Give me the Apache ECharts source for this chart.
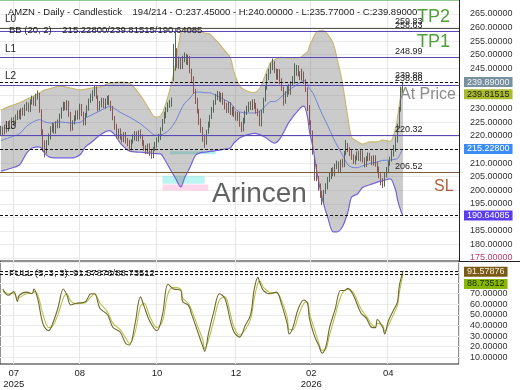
<!DOCTYPE html>
<html><head><meta charset="utf-8">
<script src="https://cdn.jsdelivr.net/npm/echarts@6/dist/echarts.min.js"></script>
<style>html,body{margin:0;padding:0;background:#fff}#c{width:520px;height:390px}</style>
</head><body><div id="c"></div>
<script>
// ---------- DATA ----------
const SLOTS = 250;
const monthIdx = [7, 43, 85, 128, 169, 211];
const monthText = ['07\n2025', '08', '10', '12', '02\n2026', '04'];

const open = [221.6,222.6,221.2,223.1,222.3,224.9,223.6,226.1,224.5,226.7,
228.5,227.0,229.6,228.2,230.4,231.4,229.7,232.5,233.6,231.8,
234.5,235.0,229.1,221.6,217.2,214.6,217.9,219.5,222.4,223.8,
221.8,224.9,223.6,227.2,230.1,231.6,230.3,232.4,228.3,223.1,
225.2,226.5,228.6,226.8,231.0,228.4,224.8,227.9,230.1,233.2,
233.8,235.5,237.7,234.3,230.5,231.5,233.2,231.2,232.4,234.2,
232.1,230.4,226.7,223.8,220.1,221.9,219.5,218.6,220.6,218.4,
217.7,215.6,218.1,219.2,220.9,218.9,221.3,219.8,217.8,215.5,
214.3,216.6,213.7,212.5,215.4,216.6,218.7,219.3,222.6,225.4,
227.5,229.7,231.5,231.7,241.5,245.0,251.0,246.0,248.1,245.6,
248.6,249.4,247.2,248.9,243.9,241.3,236.5,233.4,229.3,225.7,
222.5,219.8,217.5,221.7,224.0,227.2,229.5,232.4,234.3,235.6,
233.5,235.2,232.3,231.3,229.4,231.8,228.6,229.9,228.3,226.6,
228.1,224.3,222.6,225.5,228.7,229.8,231.9,230.4,232.7,231.4,
229.0,228.8,224.4,229.2,233.5,237.9,241.5,243.8,245.4,246.7,
244.0,241.7,243.9,240.5,237.5,232.8,235.3,238.2,236.1,239.4,
240.2,243.1,245.2,242.8,241.4,242.9,240.0,237.2,230.7,224.9,
221.3,210.5,208.5,204.3,201.6,198.9,196.1,199.5,201.2,204.1,
205.0,207.4,206.0,208.9,209.7,207.5,210.5,209.3,213.8,216.5,
214.8,214.1,212.1,210.6,212.0,213.5,211.7,213.9,211.0,209.5,
211.8,212.9,211.6,210.1,212.1,209.6,207.9,205.5,203.4,202.1,
205.6,207.2,210.1,211.5,213.3,215.1,218.4,223.7,229.8,237.45];

const close = [222.5,221.0,223.4,222.1,224.6,223.8,225.9,224.7,226.8,228.2,
227.1,229.3,228.4,230.6,231.2,229.9,232.7,233.4,232.0,234.8,
235.2,229.5,221.3,216.8,214.9,217.6,219.8,222.7,223.5,222.1,
224.6,223.9,227.4,229.8,231.3,230.6,232.1,228.0,223.4,224.9,
226.8,228.3,227.1,230.8,228.2,225.1,227.6,230.4,232.9,234.1,
235.8,237.4,234.6,230.2,231.8,233.0,231.5,232.7,233.9,232.4,
230.1,227.0,223.5,220.4,221.6,219.8,218.9,220.3,218.1,217.4,
215.9,217.8,219.5,220.6,219.2,221.0,220.1,217.5,215.8,214.6,
216.3,214.0,212.8,215.1,216.9,218.4,219.6,222.3,225.1,227.8,
229.4,231.2,232.0,233.1,244.0,250.5,246.2,247.8,245.9,248.3,
249.1,247.5,248.6,244.2,241.0,236.8,233.1,229.6,225.4,222.8,
219.5,217.8,221.4,224.2,226.9,229.8,232.1,234.6,235.3,233.8,
234.9,232.6,231.0,229.7,231.5,228.9,229.6,228.1,226.9,227.8,
224.6,222.9,225.8,228.4,230.1,231.6,230.7,232.4,231.1,229.3,
228.5,224.7,228.9,233.2,237.6,241.8,243.5,245.7,246.4,244.3,
242.0,243.6,240.2,237.8,232.5,235.6,237.9,236.4,239.1,240.5,
242.8,244.9,243.1,241.7,242.6,240.3,237.5,230.4,225.2,221.6,
214.3,208.2,204.6,201.3,198.7,196.4,199.2,201.5,203.8,205.2,
207.1,206.3,208.7,209.4,207.8,210.2,209.6,213.5,216.2,215.1,
213.8,212.4,210.9,211.7,213.2,212.0,213.6,211.3,209.8,211.5,
212.6,211.9,210.4,211.8,209.9,207.6,205.8,203.1,202.4,205.3,
207.5,209.8,211.2,213.6,214.8,218.7,223.4,229.6,237.3,239.89];

const high = [223.8,223.5,224.2,224.0,225.5,225.8,226.8,227.0,227.9,229.4,
229.6,230.2,230.5,231.7,232.6,232.3,233.5,234.9,234.5,235.6,
236.8,235.9,229.8,222.5,218.4,218.5,220.9,223.6,224.8,224.7,
225.4,226.1,228.3,230.6,232.6,232.5,233.2,233.0,228.9,225.8,
227.6,229.4,229.5,231.9,231.8,229.0,228.5,231.3,233.8,235.6,
236.9,238.6,238.3,235.0,232.9,234.1,234.0,233.8,234.8,235.1,
233.0,231.1,227.4,224.5,222.7,222.8,220.7,221.4,221.5,219.3,
218.6,218.7,220.6,221.8,221.7,222.1,222.4,220.6,218.5,216.6,
217.2,217.3,214.9,216.0,217.8,219.5,220.8,223.2,226.3,228.9,
230.6,232.4,233.3,234.2,254.0,259.8,252.4,249.3,249.0,249.6,
250.8,250.3,249.9,249.5,244.8,242.0,237.4,234.1,230.0,226.5,
223.3,220.6,222.3,225.3,227.8,230.7,233.2,235.5,236.6,236.4,
235.9,236.0,233.4,232.2,232.6,232.5,230.8,230.9,229.2,228.9,
228.8,225.2,226.7,229.3,231.2,232.6,232.8,233.5,233.6,232.2,
230.1,229.4,229.8,234.1,238.5,242.9,244.8,247.0,248.6,247.6,
244.9,244.7,244.6,241.3,238.2,236.5,238.8,239.1,240.2,242.1,
246.8,246.2,246.0,243.9,244.8,243.8,240.9,237.9,231.4,225.8,
222.0,211.9,209.6,205.2,202.5,199.8,200.1,202.6,204.9,206.6,
208.2,208.5,209.8,210.9,210.6,211.3,211.6,214.5,218.5,217.4,
215.9,215.0,213.2,212.8,214.3,214.6,214.8,214.7,212.1,212.6,
213.9,213.8,212.7,212.9,212.9,210.5,208.7,206.3,204.5,206.4,
208.6,210.9,212.4,214.7,216.7,219.8,224.5,230.8,238.2,240.0];

const low = [220.4,220.1,220.6,221.2,221.7,222.9,222.8,223.9,223.8,225.9,
226.2,226.1,227.5,227.4,229.3,228.8,228.9,231.6,231.2,231.0,
233.4,228.6,220.2,214.3,212.1,213.5,216.6,218.7,221.3,220.9,
220.8,222.8,222.9,226.4,229.2,229.5,229.4,227.1,221.7,222.0,
224.3,225.6,226.0,226.1,227.3,223.9,223.9,227.0,229.3,232.2,
232.9,234.6,233.7,229.1,229.4,230.6,230.3,230.1,231.5,231.3,
229.2,225.8,222.3,219.2,219.0,218.6,217.6,217.7,217.2,216.2,
214.4,214.7,217.2,218.3,218.1,218.0,219.0,216.4,214.6,213.3,
213.4,212.6,211.6,211.8,214.5,215.7,217.6,218.5,221.8,224.6,
226.5,228.8,230.4,230.8,240.2,244.1,245.1,244.8,244.6,244.7,
247.2,246.3,246.1,243.1,239.7,235.5,231.8,228.3,224.1,221.2,
217.9,215.6,216.8,220.8,223.1,226.3,228.6,231.5,233.2,232.7,
232.4,231.5,229.8,228.5,228.5,227.8,227.5,227.0,225.7,225.5,
223.4,221.5,221.7,224.6,227.8,228.9,229.6,229.5,230.0,228.2,
227.3,223.6,223.5,228.4,232.7,237.0,240.6,242.9,244.3,243.2,
240.8,240.7,239.1,236.6,231.2,231.9,234.4,235.3,235.2,238.5,
239.3,242.2,242.0,240.6,240.5,239.2,236.3,229.2,224.0,220.4,
213.1,203.5,203.3,199.8,197.2,194.5,195.3,198.6,200.3,203.0,
204.1,205.2,205.1,207.8,206.6,206.6,208.4,208.5,212.9,214.0,
212.6,211.2,209.7,209.5,211.0,210.8,210.6,210.2,208.4,208.6,
210.7,210.8,209.2,209.1,208.7,206.3,204.4,201.8,200.8,201.3,
204.7,206.3,209.0,210.6,212.4,214.2,217.6,222.9,229.0,235.77];

// Bollinger Bands (20,2) read at sample bars
const bbIdx = [0,5,10,14,17,21,24,27,32,38,43,46,49,54,59,62,65,70,76,78,81,84,87,89,92,95,98,100,103,106,108,111,114,117,119,122,125,127,130,134,138,141,144,147,149,152,157,163,165,167,168,170,172,175,178,181,183,186,189,191,194,197,201,205,208,212,215,216,218,219];
const bbUpper = [229.5,231,232.2,233.5,234.4,235.9,237,237.5,238.4,237.7,237,237.2,237.7,238.1,239.5,239.7,239.9,239.5,235,232.9,229.6,227,227.4,230.3,237,246,258,259.5,259.5,259.5,258.7,258,257.5,255.4,254,251.4,248.8,243.5,238.5,236.6,236,237.7,242.5,247.3,248,249,248.8,249,250,251,253,256,258.4,259,257.5,254,248.8,239.5,226.6,219.5,218,217,217.8,217.8,218.5,218,223,226.7,236.2,239.815];
const bbLower = [207,208,209.3,213.7,215.6,216,213.5,212.1,211.9,211.9,213,216,217.5,220.4,222,220.5,217.4,214.5,214,213.9,213.7,213.5,213.4,211.5,208,204.5,201.2,204.5,208.5,212.9,213.7,214,214.3,214.6,214.8,215.2,215.6,217.5,219.3,220.4,221,220.5,219.5,218,217.4,219,225.2,230.3,231,227,222,215.6,207,197,190,184.6,184.6,186.5,192,197.5,198.5,201,202,203,203.5,204.2,200,196.5,192,190.641];
const bbMiddle = [218.3,219.5,220.8,223.6,225,226,225.2,224.8,225.2,224.8,225,226.6,227.6,229.3,230.8,230.1,228.7,227,224.5,223.4,221.7,220.3,220.4,220.9,222.5,225.3,229.6,232,234,236.2,236.2,236,235.9,235,234.4,233.3,232.2,230.5,228.9,228.5,228.5,229.1,231,232.7,232.7,234,237,239.7,240.5,239,237.5,235.8,232.7,228,223.8,219.3,216.7,213,209.3,208.5,208.3,209,209.9,210.4,211,211.1,211.5,211.6,214.1,215.228];

// Full stochastic (5,3,3) read at sample bars
const stIdx = [1,4,7,9,10,14,17,18,20,23,26,28,31,34,36,38,41,46,49,51,54,58,61,65,68,70,73,76,78,81,85,88,91,94,98,99,102,104,107,110,111,113,116,119,122,125,127,130,133,136,138,140,141,143,147,150,153,156,157,159,162,165,167,168,171,173,175,177,179,182,185,187,189,192,196,199,202,204,205,208,209,211,214,216,217,219];
const stK = [74.5,68.5,72,62.7,68.5,71.5,70,74.5,65.5,41,35,41,56,74.5,68.5,59.4,61,62.4,70,70,56,50.3,38.2,33.6,23,21.5,41,67,58,44.3,35,50.3,79,74.5,73,62.4,59.4,50,35,20,15.5,32,53.4,70,65.5,44.3,33.6,29,39.7,50.3,74.5,85.4,80.6,73,70,71.5,59.4,41,32,38,56,64,61,47,29,21.5,13.9,20,38,55,73,73,75,68.5,52,47,38.2,38,45.7,38,32,44,55,62.4,77.5,91.57876];
const stD = [72,70,70.5,66,66.5,70,70.5,72,69,50,38,39,50,66,70,63,60.5,61.5,67,70,61,53,42,36,28,23,33,58,61,49,38,44,70,76,74,66,61,54,40,26,18,26,45,64,67,51,38,31,36,46,66,80,82,76,71,71,63,47,36,36,49,61,62,52,35,24,16.5,17.5,31,49,67,73,74,71,56,49,41,38.5,42,40,34.5,40,51,59,71,88.73512];

// tinted zones (bar index range, price range)
const zoneFrom = [92, 88, 88];
const zoneTo = [117, 111, 113];
const zoneLow = [213.3, 202.4, 199.9];
const zoneHigh = [214.4, 205.3, 202.1];
const zoneColor = ['rgba(110,230,215,0.55)', 'rgba(120,235,230,0.5)', 'rgba(255,175,215,0.5)'];

// axis ticks
const priceTicks = [175,180,185,190,195,200,205,210,215,220,225,230,235,240,245,250,255,260,265];
const priceLabelTicks = [175,180,185,195,200,205,210,220,225,230,245,250,255,260,265];
const oscTicks = [10,20,30,40,50,60,70,80,90,100];
const oscLabelTicks = [10,20,30,40,50,60,70];

// levels
const levelVals = [259.83, 258.63, 248.99, 238.88, 220.32, 206.52];
const levelText = ['259.83', '258.63', '248.99', '238.88', '220.32', '206.52'];
const levelNames = ['L0', '', 'L1', 'L2', 'L3', ''];
const lastClose = 239.89;
const bbLast = { mid: 215.228, up: 239.81515, low: 190.64085 };
const stLast = { k: 91.57876, d: 88.73512 };

// ---------- CHART ----------
const FONT = '"Liberation Sans", Arial, sans-serif';
const chart = echarts.init(document.getElementById('c'), null, { renderer: 'canvas' });
const slots = Array.from({ length: SLOTS }, (_, i) => String(i));
const pairs = (idx, vals) => idx.map((x, k) => [x, vals[k]]);
const dash = { color: '#111', width: 1, type: [3, 2] };
const tag = (v, text, bg, fg, dy) => ({
  yAxis: v, lineStyle: dash,
  label: { show: true, position: 'end', formatter: text, backgroundColor: bg, color: fg,
    fontSize: 9, fontFamily: FONT, padding: [1, 3, 0, 3], distance: 5, offset: [0, dy] }
});
const solid = (v, c) => ({ yAxis: v, lineStyle: { color: c, width: 1.2, type: 'solid' }, label: { show: false } });

const monthInterval = (i) => monthIdx.indexOf(i) >= 0;

chart.setOption({
  animation: false,
  backgroundColor: '#fff',
  grid: [
    { left: 0, top: 0, width: 459, height: 261, show: false },
    { left: 0, top: 261, width: 459, height: 107, show: true, borderColor: '#222', borderWidth: 1 }
  ],
  xAxis: [
    { gridIndex: 0, type: 'category', data: slots, boundaryGap: true,
      axisLine: { show: false }, axisTick: { show: false }, axisLabel: { show: false },
      splitLine: { show: true, interval: monthInterval, lineStyle: { color: '#e6e6e6' } } },
    { gridIndex: 1, type: 'category', data: slots, boundaryGap: true,
      axisLine: { show: false }, axisTick: { show: false },
      axisLabel: { interval: monthInterval, formatter: (v, i) => monthText[monthIdx.indexOf(+v)] || '',
        fontSize: 9.5, fontFamily: FONT, color: '#222', lineHeight: 11, margin: 4 },
      splitLine: { show: true, interval: monthInterval, lineStyle: { color: '#e6e6e6' } } }
  ],
  yAxis: [
    { gridIndex: 0, type: 'value', position: 'right', min: 173.89, max: 270.16, scale: true,
      axisLine: { show: true, lineStyle: { color: '#222' } },
      axisTick: { show: false, customValues: priceTicks },
      axisLabel: { customValues: priceLabelTicks, formatter: (v) => v.toFixed(5), fontSize: 9, fontFamily: FONT,
        color: (v) => (+v === 175 ? '#c03a6a' : '#333'), margin: 11 },
      splitLine: { show: true, lineStyle: { color: '#ececec' } } },
    { gridIndex: 1, type: 'value', position: 'right', min: 3.6, max: 100.9, scale: true,
      axisLine: { show: false },
      axisTick: { show: false, customValues: oscTicks },
      axisLabel: { customValues: oscLabelTicks, formatter: (v) => v.toFixed(5), fontSize: 9, fontFamily: FONT, color: '#333', margin: 11 },
      splitLine: { show: true, lineStyle: { color: '#ececec' } } }
  ],
  series: [
    { name: 'bbBase', type: 'line', xAxisIndex: 0, yAxisIndex: 0, stack: 'bb', data: pairs(bbIdx, bbLower),
      symbol: 'none', smooth: 0.3, lineStyle: { opacity: 0 }, silent: true, z: 1 },
    { name: 'bbFill', type: 'line', xAxisIndex: 0, yAxisIndex: 0, stack: 'bb',
      data: bbIdx.map((x, k) => [x, bbUpper[k] - bbLower[k]]),
      symbol: 'none', smooth: 0.3, lineStyle: { opacity: 0 }, areaStyle: { color: 'rgba(120,120,120,0.55)' }, silent: true, z: 1,
      markArea: { silent: true, data: zoneFrom.map((f, k) => [
        { xAxis: f, yAxis: zoneLow[k], itemStyle: { color: zoneColor[k] } },
        { xAxis: zoneTo[k], yAxis: zoneHigh[k] }
      ]) } },
    { name: 'bbUpper', type: 'line', xAxisIndex: 0, yAxisIndex: 0, data: pairs(bbIdx, bbUpper),
      symbol: 'none', smooth: 0.3, lineStyle: { color: '#c9b872', width: 1.2 }, z: 2 },
    { name: 'bbLower', type: 'line', xAxisIndex: 0, yAxisIndex: 0, data: pairs(bbIdx, bbLower),
      symbol: 'none', smooth: 0.3, lineStyle: { color: '#7264d8', width: 1.2 }, z: 2 },
    { name: 'bbMiddle', type: 'line', xAxisIndex: 0, yAxisIndex: 0, data: pairs(bbIdx, bbMiddle),
      symbol: 'none', smooth: 0.3, lineStyle: { color: '#6f82d6', width: 1 }, z: 2 },
    { name: 'AMZN', type: 'candlestick', xAxisIndex: 0, yAxisIndex: 0, barWidth: 1,
      data: open.map((o, i) => [o, close[i], low[i], high[i]]),
      itemStyle: { color: '#52685a', color0: '#8a5656', borderColor: '#52685a', borderColor0: '#8a5656', borderWidth: 1 },
      z: 3,
      markLine: { symbol: ['none', 'none'], silent: true, animation: false, precision: 5, z: 4,
        data: [
          solid(levelVals[0], '#555'),
          solid(levelVals[1], '#5a48b8'),
          solid(levelVals[2], '#5a48b8'),
          solid(levelVals[3], '#5a48b8'),
          solid(levelVals[4], '#5a48b8'),
          solid(levelVals[5], '#7b5a3a'),
          tag(lastClose, lastClose.toFixed(5), '#7890a0', '#eef3f6', 0),
          tag(bbLast.up, bbLast.up.toFixed(5), '#a9bb2a', '#222', 12),
          tag(bbLast.mid, bbLast.mid.toFixed(5), '#3b8cf5', '#fff', 0),
          tag(bbLast.low, bbLast.low.toFixed(5), '#5a3cf0', '#fff', 0)
        ] } },
    { name: '%K', type: 'line', xAxisIndex: 1, yAxisIndex: 1, data: pairs(stIdx, stK),
      symbol: 'none', smooth: 0.35, lineStyle: { color: '#6e6a2c', width: 1.1 }, z: 3,
      markLine: { symbol: ['none', 'none'], silent: true, animation: false, precision: 5,
        data: [
          tag(stLast.k, stLast.k.toFixed(5), '#7a5a16', '#f4f0e0', 1),
          tag(stLast.d, stLast.d.toFixed(5), '#88b800', '#1a2a00', 10)
        ] } },
    { name: '%D', type: 'line', xAxisIndex: 1, yAxisIndex: 1, data: pairs(stIdx, stD),
      symbol: 'none', smooth: 0.35, lineStyle: { color: '#b3c24a', width: 1.1 }, z: 2 }
  ]
});

// ---------- TEXT OVERLAYS (positions from the library's scales) ----------
const py = (v) => chart.convertToPixel({ yAxisIndex: 0 }, v);
const oy = (v) => chart.convertToPixel({ yAxisIndex: 1 }, v);
const txt = (x, y, text, size, fill, extra) => Object.assign({
  type: 'text', x: x, y: y, silent: true, z: 100,
  style: { text: text, fill: fill, font: size + 'px ' + FONT, verticalAlign: 'middle', textVerticalAlign: 'middle' }
}, extra || {});

const g = [];
g.push({ type: 'line', silent: true, z: 50, shape: { x1: 459, y1: 261.5, x2: 520, y2: 261.5 }, style: { stroke: '#222', lineWidth: 1 } });
g.push({ type: 'line', silent: true, z: 50, shape: { x1: 0, y1: 0.5, x2: 459, y2: 0.5 }, style: { stroke: '#8fc98f', lineWidth: 1 } });
g.push(txt(8, 12, 'AMZN - Daily - Candlestick    194/214 - O:237.45000 - H:240.00000 - L:235.77000 - C:239.89000', 9.5, '#222'));
g.push(txt(9, 30, 'BB (20, 2)    215.22800/239.81515/190.64085', 9.5, '#222'));
g.push(txt(9, oy(stLast.k) + 2.5, 'FULL (5, 3, 3): 91.57876/88.73512', 9.5, '#222'));
levelVals.forEach((v, k) => {
  const y = py(v);
  g.push(txt(395, y - 6, levelText[k], 9, '#222'));
  if (levelNames[k]) g.push(txt(5, y - 8.5, levelNames[k], 10, '#222'));
});
g.push(txt(395, py(lastClose) - 7, '239.88', 9, '#222'));
g.push(txt(417, py(levelVals[1]) - 14, 'TP2', 18, '#4f9e3a'));
g.push(txt(417, py(levelVals[2]) - 15, 'TP1', 18, '#4f9e3a'));
g.push(txt(400, py(levelVals[3]) + 10, 'At Price', 16, '#8c8c8c'));
g.push(txt(434, py(levelVals[5]) + 14, 'SL', 16, '#b0603a'));
g.push(txt(212, 194, 'Arincen', 28, 'rgba(70,70,70,0.85)'));
chart.setOption({ graphic: g });
</script>
</body></html>
